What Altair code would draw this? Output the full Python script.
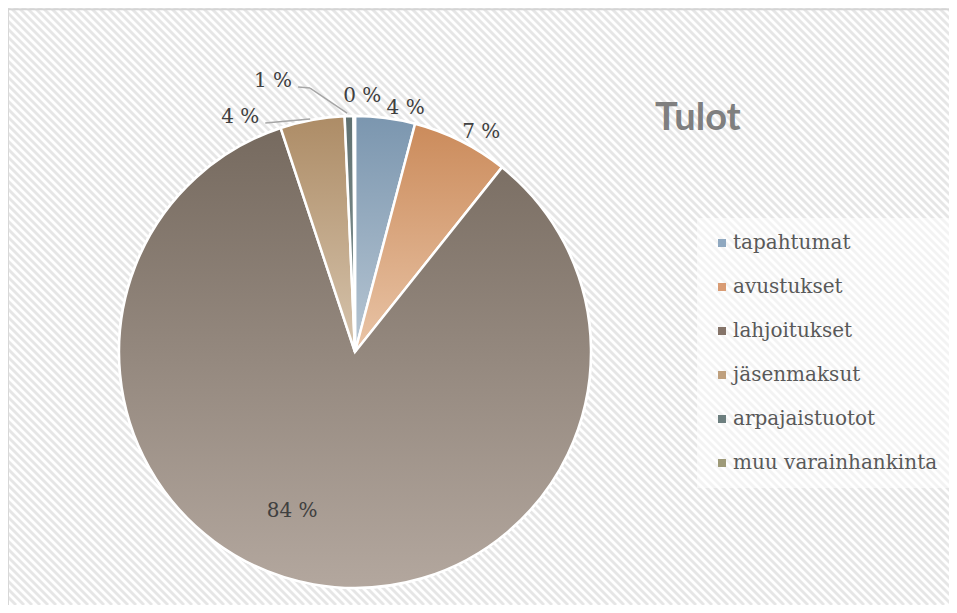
import altair as alt
import pandas as pd

# ---------------- data ----------------
CATEGORIES = ["tapahtumat", "avustukset", "lahjoitukset", "jäsenmaksut",
              "arpajaistuotot", "muu varainhankinta"]
SHARES = [4.1, 6.6, 84.2, 4.4, 0.6, 0.1]
LABELS = ["4 %", "7 %", "84 %", "4 %", "1 %", "0 %"]
TITLE = "Tulot"

# ---------------- style ----------------
TOP_COLORS = ["#7b96af", "#cb8b5b", "#766a5f", "#ad8c66", "#5f7070", "#8f8a68"]
BOTTOM_COLORS = ["#b7c6d3", "#e9c4a6", "#b3a79e", "#d6c4ad", "#8a9a9a", "#b5b295"]
LEGEND_COLORS = ["#8fa8c0", "#d99c74", "#857469", "#bfa07e", "#6d7f7f", "#9e9a78"]

W, H = 941, 597
CX, CY, R = 347, 344, 236

# label placement: (radius, dx, dy) relative to slice mid-angle
LABEL_POS = {
    "tapahtumat": (246, 19, 0),
    "avustukset": (246, 16, 0),
    "lahjoitukset": (171, -33, -9),
    "jäsenmaksut": (236, -72, -3),
    "arpajaistuotot": (236, -76, -35),
    "muu varainhankinta": (256, 8, 0),
}
# leader segments: offsets from slice edge point
LEADERS = [
    ("arpajaistuotot", (-2, -3), (-39, -28)),
    ("arpajaistuotot", (-39, -28), (-51, -29)),
    ("jäsenmaksut", (-2, -1), (-47, 3)),
]

df = pd.DataFrame({"cat": CATEGORIES, "value": SHARES, "label": LABELS,
                   "idx": list(range(len(CATEGORIES)))})


def ternary(idx):
    expr = "0"
    for c, v in LABEL_POS.items():
        expr = f"(datum.cat === '{c}' ? {v[idx]} : {expr})"
    return expr


base = (
    alt.Chart(df)
    .transform_joinaggregate(total="sum(value)")
    .transform_window(cum="sum(value)", sort=[alt.SortField("idx")], frame=[None, 0])
    .transform_calculate(
        a0="(datum.cum - datum.value) / datum.total * 2 * PI",
        a1="datum.cum / datum.total * 2 * PI",
        mid="(datum.cum - datum.value / 2) / datum.total * 2 * PI",
    )
)

# background stripes
stripes = (
    alt.Chart(alt.sequence(0, int((W + H) / 8) + 3, as_="k"))
    .transform_calculate(sx=f"datum.k * 8 - {H}", ex=f"datum.k * 8")
    .mark_rule(clip=True, color="#e6e6e6", strokeWidth=2.8)
    .encode(
        x=alt.X("sx:Q", scale=None, axis=None),
        x2=alt.X2("ex:Q"),
        y=alt.value(0),
        y2=alt.value(H),
    )
)

one = alt.Data(values=[{"t": TITLE}])
border_top = alt.Chart(one).mark_rule(color="#d4d4d4", strokeWidth=1.5).encode(
    x=alt.value(0), x2=alt.value(W), y=alt.value(1.5))
border_left = alt.Chart(one).mark_rule(color="#d4d4d4", strokeWidth=1.5).encode(
    x=alt.value(0), y=alt.value(0), y2=alt.value(H))

arcs = base.mark_arc(radius=R, stroke="white", strokeWidth=2.5).encode(
    x=alt.value(CX), y=alt.value(CY),
    theta=alt.Theta("a0:Q", scale=None), theta2=alt.Theta2("a1:Q"),
    color=alt.Color(
        "cat:N",
        scale=alt.Scale(domain=CATEGORIES, range=LEGEND_COLORS),
        legend=alt.Legend(
            title=None, orient="none", legendX=689, legendY=210,
            symbolType="square", symbolSize=64, symbolStrokeWidth=0,
            symbolOpacity=1, labelLimit=0,
            labelFont="DejaVu Serif", labelFontSize=20, labelColor="#595959",
            rowPadding=24, labelOffset=1, padding=15,
            fillColor="rgba(255,255,255,0.5)",
        ),
    ),
)

conds = []
for c, t, b in zip(CATEGORIES, TOP_COLORS, BOTTOM_COLORS):
    conds.append({
        "test": f"datum.cat === '{c}'",
        "value": {"gradient": "linear", "x1": 0, "y1": 0, "x2": 0, "y2": 1,
                  "stops": [{"offset": 0, "color": t}, {"offset": 1, "color": b}]},
    })

garcs = base.mark_arc(radius=R, stroke="white", strokeWidth=2.5).encode(
    x=alt.value(CX), y=alt.value(CY),
    theta=alt.Theta("a0:Q", scale=None), theta2=alt.Theta2("a1:Q"),
    fill={"condition": conds, "value": "#999999"},
)

leader_layers = []
for c, p0, p1 in LEADERS:
    leader_layers.append(
        base.transform_filter(f"datum.cat === '{c}'")
        .transform_calculate(
            ex0=f"{CX} + {R} * sin(datum.mid) + {p0[0]}",
            ey0=f"{CY} - {R} * cos(datum.mid) + {p0[1]}",
            ex1=f"{CX} + {R} * sin(datum.mid) + {p1[0]}",
            ey1=f"{CY} - {R} * cos(datum.mid) + {p1[1]}",
        )
        .mark_rule(color="#a6a6a6", strokeWidth=1.5)
        .encode(
            x=alt.X("ex0:Q", scale=None, axis=None), y=alt.Y("ey0:Q", scale=None, axis=None),
            x2=alt.X2("ex1:Q"), y2=alt.Y2("ey1:Q"),
        )
    )

labels = (
    base.transform_calculate(
        lx=f"{CX} + {ternary(0)} * sin(datum.mid) + {ternary(1)}",
        ly=f"{CY} - {ternary(0)} * cos(datum.mid) + {ternary(2)}",
    )
    .mark_text(font="DejaVu Serif", fontSize=20, color="#404040",
               align="center", baseline="middle")
    .encode(
        x=alt.X("lx:Q", scale=None, axis=None),
        y=alt.Y("ly:Q", scale=None, axis=None),
        text="label:N",
    )
)

title = alt.Chart(one).mark_text(
    font="Lato", fontWeight="bold", fontSize=38, color="#7f7f7f",
    align="left", baseline="alphabetic",
).encode(x=alt.value(647), y=alt.value(122), text="t:N")

chart = (
    alt.layer(stripes, border_top, border_left, arcs, garcs, *leader_layers, labels, title)
    .properties(width=W, height=H, padding=0,
                autosize=alt.AutoSizeParams(type="none"))
    .configure_view(stroke=None, fill="#fbfbfb")
    .configure(background="#ffffff")
)

chart.save("out.html", embed_options={"renderer": "svg", "actions": False})
